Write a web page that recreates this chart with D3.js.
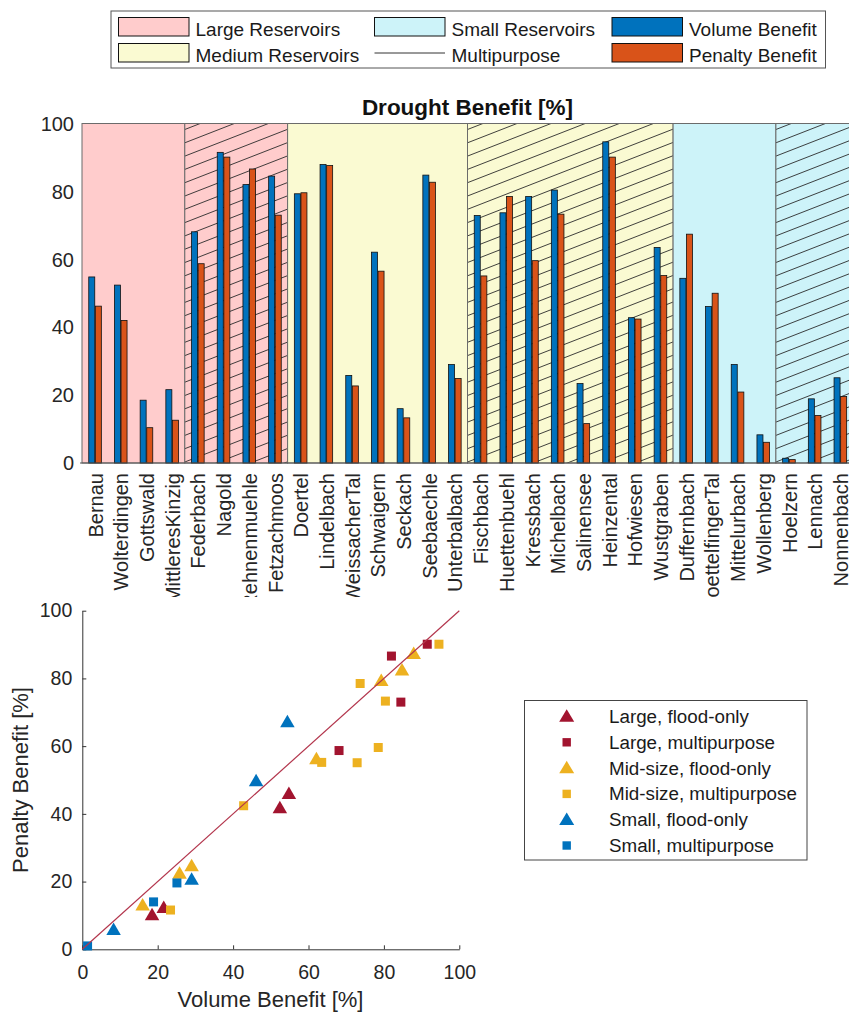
<!DOCTYPE html>
<html>
<head>
<meta charset="utf-8">
<script src="https://cdn.jsdelivr.net/npm/d3@7/dist/d3.min.js"></script>
<style>
  body { margin: 0; background: #fff; }
  svg { display: block; font-family: "Liberation Sans", Arial, sans-serif; }
</style>
</head>
<body>
<div id="chart"></div>
<script>
const width = 849;
const height = 1014;

// reservoirs, in the order they are plotted
const largeFlood = ["Bernau", "Wolterdingen", "Gottswald", "MittleresKinzig"];
const largeMulti = ["Federbach", "Nagold", "Rehnenmuehle", "Fetzachmoos"];
const mediumFlood = ["Doertel", "Lindelbach", "WeissacherTal", "Schwaigern", "Seckach", "Seebaechle", "Unterbalbach"];
const mediumMulti = ["Fischbach", "Huettenbuehl", "Kressbach", "Michelbach", "Salinensee", "Heinzental", "Hofwiesen", "Wustgraben"];
const smallFlood = ["Duffernbach", "GoettelfingerTal", "Mittelurbach", "Wollenberg"];
const smallMulti = ["Hoelzern", "Lennach", "Nonnenbach"];

// drought benefit [%], same order as above
const volumeBenefit = [54.8, 52.4, 18.5, 21.6, 68.1, 91.5, 82.0, 84.5,
  79.3, 87.9, 25.8, 62.1, 16.0, 84.8, 29.0,
  72.9, 73.7, 78.5, 80.4, 23.4, 94.6, 42.8, 63.5,
  54.4, 46.1, 29.0, 8.3, 1.4, 18.9, 25.1];
const penaltyBenefit = [46.2, 42.0, 10.4, 12.6, 58.7, 90.1, 86.6, 73.0,
  79.6, 87.6, 22.7, 56.5, 13.3, 82.7, 24.9,
  55.1, 78.5, 59.6, 73.3, 11.6, 90.1, 42.4, 55.2,
  67.4, 50.0, 20.9, 6.1, 1.0, 14.0, 19.6];

const yTicks = [0, 20, 40, 60, 80, 100];

const groups = [
  { size: "Large", multi: false, names: largeFlood },
  { size: "Large", multi: true, names: largeMulti },
  { size: "Medium", multi: false, names: mediumFlood },
  { size: "Medium", multi: true, names: mediumMulti },
  { size: "Small", multi: false, names: smallFlood },
  { size: "Small", multi: true, names: smallMulti }
];
const reservoirs = groups.flatMap(g => g.names);

const bgColor = { Large: "#ffcccc", Medium: "#fafad2", Small: "#cdf3f9" };
const markColor = { Large: "#a2142f", Medium: "#edb120", Small: "#0072bd" };
const blue = "#0072bd";
const orange = "#d95319";
const textColor = "#262626";

const svg = d3.select("#chart")
  .append("svg")
  .attr("width", width)
  .attr("height", height);

// ---------- top legend ----------
const leg = svg.append("g");
leg.append("rect")
  .attr("x", 111).attr("y", 11).attr("width", 714.5).attr("height", 57)
  .attr("fill", "#fff").attr("stroke", "#555").attr("stroke-width", 1);

const legItems = [
  { col: 0, row: 0, type: "patch", fill: bgColor.Large, label: "Large Reservoirs" },
  { col: 0, row: 1, type: "patch", fill: bgColor.Medium, label: "Medium Reservoirs" },
  { col: 1, row: 0, type: "patch", fill: bgColor.Small, label: "Small Reservoirs" },
  { col: 1, row: 1, type: "line", label: "Multipurpose" },
  { col: 2, row: 0, type: "patch", fill: blue, label: "Volume Benefit" },
  { col: 2, row: 1, type: "patch", fill: orange, label: "Penalty Benefit" }
];
const legColX = [118.5, 374.5, 612];
legItems.forEach(d => {
  const x0 = legColX[d.col];
  const y0 = d.row === 0 ? 17.5 : 43.5;
  if (d.type === "patch") {
    leg.append("rect")
      .attr("x", x0).attr("y", y0).attr("width", 70.5).attr("height", 18.5)
      .attr("fill", d.fill).attr("stroke", "#111").attr("stroke-width", 1);
  } else {
    leg.append("line")
      .attr("x1", x0).attr("x2", x0 + 70.5)
      .attr("y1", y0 + 9.5).attr("y2", y0 + 9.5)
      .attr("stroke", "#333").attr("stroke-width", 1);
  }
  leg.append("text")
    .attr("x", x0 + 77).attr("y", y0 + 18)
    .attr("font-size", 19).attr("fill", "#1a1a1a")
    .text(d.label);
});

// ---------- bar chart ----------
const x = d3.scaleBand().domain(reservoirs).range([82, 853]);
const y = d3.scaleLinear().domain([0, 100]).range([463, 123.5]);
const bw = x.bandwidth();

svg.append("text")
  .attr("x", 467.5).attr("y", 115)
  .attr("text-anchor", "middle")
  .attr("font-size", 22.5).attr("font-weight", "bold").attr("fill", "#111")
  .text("Drought Benefit [%]");

const defs = svg.append("defs");
const regions = svg.append("g");

groups.forEach((g, i) => {
  const x0 = x(g.names[0]);
  const x1 = x(g.names[g.names.length - 1]) + bw;
  const top = y(100), bottom = y(0);
  regions.append("rect")
    .attr("x", x0).attr("y", top)
    .attr("width", x1 - x0).attr("height", bottom - top)
    .attr("fill", bgColor[g.size]);
  if (g.multi) {
    const id = "clip" + i;
    defs.append("clipPath").attr("id", id)
      .append("rect")
      .attr("x", x0).attr("y", top)
      .attr("width", x1 - x0).attr("height", bottom - top);
    const hatch = regions.append("g").attr("clip-path", `url(#${id})`);
    const slope = 0.39, step = 13.3;
    const w = x1 - x0;
    for (let yy = top + 6; yy < bottom + slope * w + step; yy += step) {
      hatch.append("line")
        .attr("x1", x0).attr("y1", yy)
        .attr("x2", x1).attr("y2", yy - slope * w)
        .attr("stroke", "#2b2b2b").attr("stroke-width", 0.9);
    }
  }
  regions.append("rect")
    .attr("x", x0).attr("y", top)
    .attr("width", x1 - x0).attr("height", bottom - top)
    .attr("fill", "none").attr("stroke", "#6b6b6b").attr("stroke-width", 1);
});

const bars = svg.append("g");
bars.selectAll(".vol")
  .data(reservoirs)
  .enter()
  .append("rect")
  .attr("class", "vol")
  .attr("x", d => x(d) + bw / 2 - 6.1)
  .attr("width", 6)
  .attr("y", (d, i) => y(volumeBenefit[i]))
  .attr("height", (d, i) => y(0) - y(volumeBenefit[i]))
  .attr("fill", blue).attr("stroke", "#111").attr("stroke-width", 0.8);
bars.selectAll(".pen")
  .data(reservoirs)
  .enter()
  .append("rect")
  .attr("class", "pen")
  .attr("x", d => x(d) + bw / 2 + 0.5)
  .attr("width", 6)
  .attr("y", (d, i) => y(penaltyBenefit[i]))
  .attr("height", (d, i) => y(0) - y(penaltyBenefit[i]))
  .attr("fill", orange).attr("stroke", "#111").attr("stroke-width", 0.8);

// axes
svg.append("line")
  .attr("x1", 80).attr("x2", 853).attr("y1", y(0)).attr("y2", y(0))
  .attr("stroke", "#555").attr("stroke-width", 1);

svg.selectAll(".ytick")
  .data(yTicks)
  .enter()
  .append("text")
  .attr("class", "ytick")
  .attr("x", 74).attr("y", d => y(d))
  .attr("dy", "0.36em")
  .attr("text-anchor", "end")
  .attr("font-size", 20).attr("fill", textColor)
  .text(d => d);

defs.append("clipPath").attr("id", "labelclip")
  .append("rect").attr("x", 0).attr("y", 463).attr("width", width).attr("height", 134);

svg.append("g").attr("clip-path", "url(#labelclip)")
  .selectAll("text")
  .data(reservoirs)
  .enter()
  .append("text")
  .attr("transform", d => `translate(${x(d) + bw / 2 + 0.8},473) rotate(-90)`)
  .attr("dy", "0.35em")
  .attr("text-anchor", "end")
  .attr("font-size", 20).attr("fill", textColor)
  .text(d => d);

// ---------- scatter ----------
const sx = d3.scaleLinear().domain([0, 100]).range([82.3, 459.3]);
const sy = d3.scaleLinear().domain([0, 100]).range([949.3, 610.7]);

// white background of the lower axes
svg.append("rect")
  .attr("x", 0).attr("y", 597).attr("width", width).attr("height", height - 597)
  .attr("fill", "#fff");

const xAxis = d3.axisBottom(sx).tickValues(yTicks).tickSizeInner(-4).tickSizeOuter(0).tickPadding(16);
const yAxis = d3.axisLeft(sy).tickValues(yTicks).tickSizeInner(-4).tickSizeOuter(0).tickPadding(10);

const gx = svg.append("g").attr("transform", `translate(0,${sy(0)})`).call(xAxis);
const gy = svg.append("g").attr("transform", `translate(${sx(0)},0)`).call(yAxis);
[gx, gy].forEach(g => {
  g.select(".domain").attr("stroke", "#333");
  g.selectAll(".tick line").attr("stroke", "#333");
  g.selectAll(".tick text").attr("font-size", 19.5).attr("fill", textColor)
    .attr("font-family", "Liberation Sans, Arial, sans-serif");
});

svg.append("text")
  .attr("x", 270.5).attr("y", 1007)
  .attr("text-anchor", "middle")
  .attr("font-size", 22).attr("fill", textColor)
  .text("Volume Benefit [%]");
svg.append("text")
  .attr("transform", "translate(28,780) rotate(-90)")
  .attr("text-anchor", "middle")
  .attr("font-size", 22).attr("fill", textColor)
  .text("Penalty Benefit [%]");

function triPath(cx, cy, w, h) {
  return `M${cx},${cy - h / 2}L${cx + w / 2},${cy + h / 2}L${cx - w / 2},${cy + h / 2}Z`;
}

const points = reservoirs.map((name, i) => {
  const g = groups.find(gr => gr.names.includes(name));
  return { name, size: g.size, multi: g.multi, vol: volumeBenefit[i], pen: penaltyBenefit[i] };
});

const pts = svg.append("g");
points.forEach(p => {
  const cx = sx(p.vol), cy = sy(p.pen);
  if (p.multi) {
    pts.append("rect")
      .attr("x", cx - 4.5).attr("y", cy - 4.5)
      .attr("width", 9).attr("height", 9)
      .attr("fill", markColor[p.size]);
  } else {
    pts.append("path")
      .attr("d", triPath(cx, cy, 14.5, 12.5))
      .attr("fill", markColor[p.size]);
  }
});

svg.append("line")
  .attr("x1", sx(0)).attr("y1", sy(0))
  .attr("x2", sx(100)).attr("y2", sy(100))
  .attr("stroke", "#b3364d").attr("stroke-width", 1.2);

// scatter legend
const sleg = svg.append("g");
sleg.append("rect")
  .attr("x", 524.5).attr("y", 700.5).attr("width", 282.5).attr("height", 159.5)
  .attr("fill", "#fff").attr("stroke", "#444").attr("stroke-width", 1);

const scatterLegend = [
  { size: "Large", multi: false, label: "Large, flood-only" },
  { size: "Large", multi: true, label: "Large, multipurpose" },
  { size: "Medium", multi: false, label: "Mid-size, flood-only" },
  { size: "Medium", multi: true, label: "Mid-size, multipurpose" },
  { size: "Small", multi: false, label: "Small, flood-only" },
  { size: "Small", multi: true, label: "Small, multipurpose" }
];
scatterLegend.forEach((d, i) => {
  const cy = 716.5 + i * 25.8;
  if (d.multi) {
    sleg.append("rect")
      .attr("x", 566.7 - 4.2).attr("y", cy - 4.2)
      .attr("width", 8.4).attr("height", 8.4)
      .attr("fill", markColor[d.size]);
  } else {
    sleg.append("path")
      .attr("d", triPath(566.7, cy - 1, 15, 12.5))
      .attr("fill", markColor[d.size]);
  }
  sleg.append("text")
    .attr("x", 609).attr("y", cy)
    .attr("dy", "0.35em")
    .attr("font-size", 18.8).attr("fill", "#1a1a1a")
    .text(d.label);
});
</script>
</body>
</html>
